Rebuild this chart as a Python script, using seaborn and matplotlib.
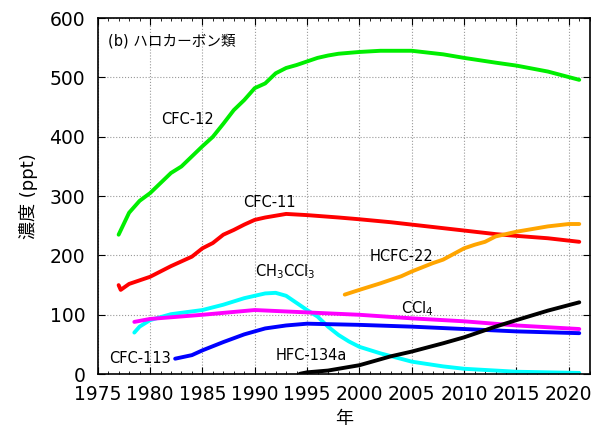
import pandas as pd
import seaborn as sns
import matplotlib.pyplot as plt
from matplotlib.ticker import MultipleLocator

# 読み取り値 (ppt)
cfc12_year = [1977, 1978, 1979, 1980, 1981, 1982, 1983, 1984, 1985, 1986, 1987, 1988, 1989, 1990,
              1991, 1992, 1993, 1994, 1995, 1996, 1997, 1998, 2000, 2002, 2005, 2008, 2010, 2013, 2015, 2018, 2021]
cfc12_val = [235, 272, 292, 305, 322, 339, 350, 367, 384, 400, 422, 445, 462, 482,
             490, 507, 516, 521, 527, 533, 537, 540, 543, 545, 545, 539, 533, 525, 520, 510, 496]

cfc11_year = [1977.0, 1977.2, 1978, 1979, 1980, 1981, 1982, 1983, 1984, 1985, 1986, 1987, 1988, 1989, 1990,
              1991, 1992, 1993, 1995, 1998, 2000, 2003, 2005, 2008, 2010, 2013, 2015, 2018, 2021]
cfc11_val = [150, 142, 152, 158, 164, 173, 182, 190, 198, 212, 221, 235, 243, 252, 260,
             264, 267, 270, 268, 264, 261, 256, 252, 246, 242, 236, 233, 229, 223]

hcfc22_year = [1998.6, 2000, 2002, 2004, 2005, 2007, 2008, 2010, 2011, 2012, 2013, 2015, 2017, 2018, 2020, 2021]
hcfc22_val = [134, 142, 153, 165, 173, 187, 193, 212, 218, 223, 232, 240, 246, 249, 253, 253]

ch3ccl3_year = [1978.5, 1979, 1980, 1982, 1985, 1987, 1989, 1990, 1991, 1992, 1993, 1994, 1995, 1996,
                1997, 1998, 1999, 2000, 2002, 2005, 2008, 2010, 2015, 2021]
ch3ccl3_val = [70, 80, 91, 101, 108, 117, 128, 132, 136, 137, 132, 120, 108, 97,
               80, 66, 55, 46, 35, 21, 13, 9, 4, 2]

ccl4_year = [1978.5, 1980, 1985, 1990, 1995, 2000, 2005, 2010, 2015, 2021]
ccl4_val = [88, 93, 100, 108, 104, 100, 94, 89, 82, 76]

cfc113_year = [1982.4, 1984, 1985, 1987, 1989, 1990, 1991, 1993, 1995, 2000, 2005, 2010, 2015, 2021]
cfc113_val = [26, 32, 40, 54, 67, 72, 77, 82, 85, 83, 80, 76, 72, 69]

hfc134a_year = [1994.3, 1995, 1997, 2000, 2003, 2005, 2008, 2010, 2013, 2015, 2018, 2021]
hfc134a_val = [0.5, 3, 6, 15, 30, 38, 52, 62, 80, 91, 107, 121]

series = [
    (cfc12_year, cfc12_val, "#00ee00"),
    (cfc11_year, cfc11_val, "#ff0000"),
    (hcfc22_year, hcfc22_val, "#ffa500"),
    (ch3ccl3_year, ch3ccl3_val, "#00ffff"),
    (ccl4_year, ccl4_val, "#ff00ff"),
    (cfc113_year, cfc113_val, "#0000ff"),
    (hfc134a_year, hfc134a_val, "#000000"),
]

sns.set_style("ticks", {"text.color": "black", "axes.labelcolor": "black",
                        "xtick.color": "black", "ytick.color": "black",
                        "axes.edgecolor": "black"})
plt.rcParams['font.family'] = ['DejaVu Sans', 'Noto Sans CJK JP']

fig = plt.figure(figsize=(6.03, 4.32), dpi=100)
ax = fig.add_axes([0.162, 0.134, 0.816, 0.824])

for yr, val, col in series:
    sns.lineplot(x=yr, y=val, color=col, lw=2.8, ax=ax)

ax.set_xlim(1975, 2022)
ax.set_ylim(0, 600)
ax.xaxis.set_major_locator(MultipleLocator(5))
ax.xaxis.set_minor_locator(MultipleLocator(1))
ax.yaxis.set_major_locator(MultipleLocator(100))
ax.tick_params(which='both', direction='in', top=True, right=True, labelsize=13.5)
ax.tick_params(axis='x', which='major', length=5, pad=8)
ax.tick_params(axis='y', which='major', length=5, pad=9)
ax.tick_params(which='minor', length=2.5)
ax.grid(True, which='major', color='#999999', linestyle=':', lw=0.8)
for s in ax.spines.values():
    s.set_linewidth(1.2)

ax.set_xlabel("年", fontsize=13, labelpad=4)
ax.set_ylabel("濃度 (ppt)", fontsize=13, labelpad=8)

lab = dict(fontsize=10.5, ha='center', va='center')
ax.text(0.02, 0.935, "(b) ハロカーボン類", transform=ax.transAxes, fontsize=10.5, va='center')
ax.text(1983.6, 430, "CFC-12", **lab)
ax.text(1991.4, 289, "CFC-11", **lab)
ax.text(2004.0, 199, "HCFC-22", **lab)
ax.text(1992.9, 173, "CH$_3$CCl$_3$", **lab)
ax.text(2005.5, 111, "CCl$_4$", **lab)
ax.text(1979.0, 26, "CFC-113", **lab)
ax.text(1995.4, 32, "HFC-134a", **lab)

fig.savefig("out.png", dpi=100)
